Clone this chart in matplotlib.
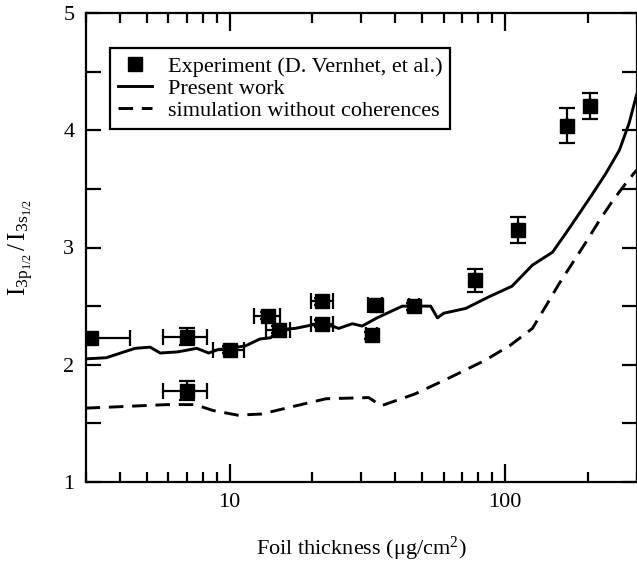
import numpy as np
import matplotlib
matplotlib.use("Agg")
import matplotlib.pyplot as plt
from matplotlib.lines import Line2D
from matplotlib.ticker import FixedLocator, NullFormatter, LogLocator

# Experimental points (D. Vernhet et al.)
exp_x = [3.15, 7.0, 7.0, 10.0, 13.8, 15.1, 21.7, 21.7, 32.9, 33.9, 46.7, 77.8, 111.7, 167.5, 203.7]
exp_y = [2.23, 2.24, 1.78, 2.13, 2.42, 2.30, 2.54, 2.35, 2.25, 2.51, 2.50, 2.72, 3.15, 4.04, 4.21]
exp_xerr = [1.2, 1.25, 1.25, 1.3, 1.5, 1.5, 2.0, 2.0, 1.5, 2.0, 2.0, 0.0, 0.0, 0.0, 0.0]
exp_yerr = [0.03, 0.07, 0.08, 0.03, 0.03, 0.03, 0.03, 0.03, 0.03, 0.03, 0.03, 0.10, 0.11, 0.15, 0.11]

# Present work (solid)
pw_x = [3.0, 3.57, 4.54, 5.15, 5.6, 6.5, 7.6, 8.4, 9.1, 11.4, 12.9, 14.1, 15.1, 17.3, 20.0,
        23.6, 24.9, 27.9, 30.3, 34.3, 42.4, 53.7, 56.8, 60.0, 71.9, 87.5, 106, 125.7,
        148.7, 166, 186, 208, 232, 260, 282, 300]
pw_y = [2.05, 2.06, 2.14, 2.15, 2.10, 2.11, 2.14, 2.10, 2.13, 2.16, 2.22, 2.23, 2.30, 2.31, 2.34,
        2.33, 2.31, 2.35, 2.33, 2.40, 2.50, 2.50, 2.40, 2.44, 2.48, 2.58, 2.67, 2.85,
        2.96, 3.12, 3.29, 3.46, 3.63, 3.83, 4.06, 4.30]

# Simulation without coherences (dashed)
nc_x = [3.0, 3.79, 5.91, 7.5, 8.7, 10.7, 13.1, 16.7, 22.4, 32.0, 35.5, 47.0, 63.0, 85.0,
        105, 125.7, 140.6, 157, 176, 196, 220, 246, 275, 300]
nc_y = [1.63, 1.64, 1.66, 1.66, 1.61, 1.57, 1.58, 1.64, 1.71, 1.72, 1.65, 1.75, 1.89, 2.04,
        2.17, 2.31, 2.50, 2.69, 2.87, 3.04, 3.23, 3.40, 3.55, 3.66]

plt.rcParams.update({
    "font.family": "Liberation Serif",
    "mathtext.fontset": "custom",
    "mathtext.rm": "Liberation Serif",
    "mathtext.it": "Liberation Serif:italic",
    "font.size": 16,
    "axes.linewidth": 1.6,
})

fig = plt.figure(figsize=(6.37, 5.68), dpi=100)
ax = fig.add_axes([85.5 / 637, 86 / 568, 551 / 637, 469 / 568])

ax.plot(pw_x, pw_y, color="black", lw=2.1)
ax.plot(nc_x, nc_y, color="black", lw=2.1, dashes=(5, 3))
ax.errorbar(exp_x, exp_y, xerr=exp_xerr, yerr=exp_yerr, fmt="s", color="black",
            ms=10, capsize=5.5, elinewidth=1.6, capthick=1.6)

ax.set_xscale("log")
ax.set_xlim(3, 300)
ax.set_ylim(1, 5)
ax.set_yticks([1, 2, 3, 4, 5])
ax.yaxis.set_minor_locator(FixedLocator([1.5, 2.5, 3.5, 4.5]))
ax.xaxis.set_minor_locator(LogLocator(base=10, subs=np.arange(2, 10)))
ax.xaxis.set_minor_formatter(NullFormatter())
ax.set_xticks([10, 100])
ax.set_xticklabels(["10", "100"])

ax.tick_params(which="both", direction="in", top=True, right=True, width=1.6, labelsize=16)
ax.tick_params(axis="x", which="major", length=13, pad=8)
ax.tick_params(axis="x", which="minor", length=7)
ax.tick_params(axis="y", which="both", length=11, pad=8)

ax.set_xlabel("Foil thickness (\u03bcg/cm$^2$)", fontsize=16, labelpad=16)
ax.set_ylabel(r"$\mathrm{I}_{3\mathrm{p}_{1/2}}\,/\,\mathrm{I}_{3\mathrm{s}_{1/2}}$", fontsize=18)
ax.yaxis.set_label_coords(-0.09, 0.5)

handles = [
    Line2D([], [], marker="s", ls="none", color="black", ms=10),
    Line2D([], [], color="black", lw=2.1),
    Line2D([], [], color="black", lw=2.1, dashes=(5, 3)),
]
labels = ["Experiment (D. Vernhet, et al.)", "Present work", "simulation without coherences"]
leg = ax.legend(handles, labels, loc="upper left",
                bbox_to_anchor=(0.044, 0.925), fancybox=False, edgecolor="black",
                framealpha=1, fontsize=16, handlelength=1.55, borderpad=0.35,
                labelspacing=0.08, handletextpad=0.7, borderaxespad=0)
leg.get_frame().set_linewidth(1.6)

fig.savefig("out.png", dpi=100)
